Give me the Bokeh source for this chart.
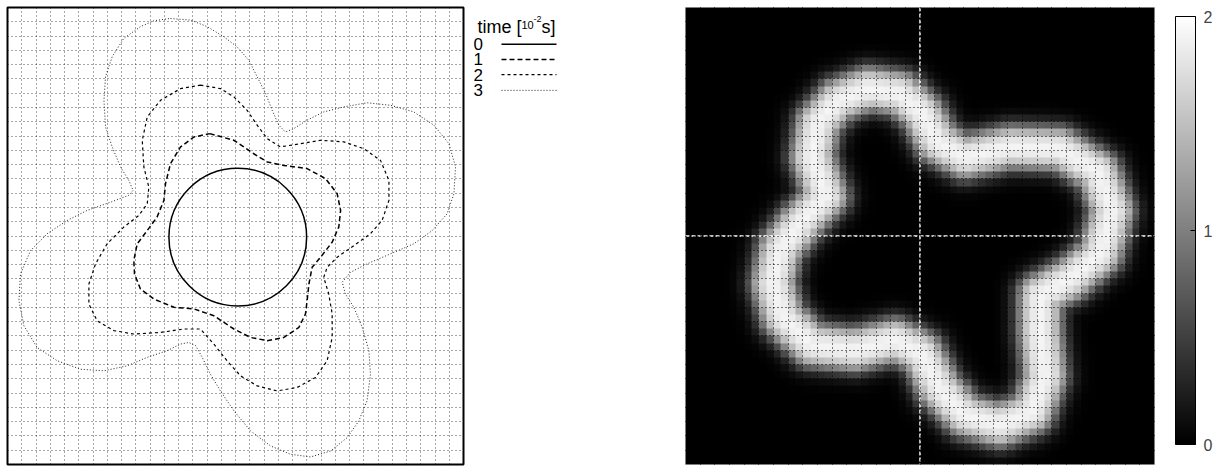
import numpy as np
from bokeh.plotting import figure
from bokeh.models import FixedTicker, LinearColorMapper, ColorBar, Span, Range1d
from bokeh.layouts import row
from bokeh.core.properties import value
from bokeh.embed import file_html
from bokeh.resources import INLINE
from bokeh.palettes import Greys256

# ---------------- data ----------------
legend_labels = ["0", "1", "2", "3"]
legend_title_parts = ["time [", "10", "-2", "s]"]

# t = 0 : circle
circle0_cx = [0.010]
circle0_cy = [-0.005]
circle0_r = [0.302]

# t = 1
curve1_x = [-0.113, -0.007, 0.080, 0.139, 0.212, 0.314, 0.395, 0.446, 0.461, 0.453,
            0.424, 0.373, 0.336, 0.322, 0.314, 0.307, 0.278, 0.212, 0.139, 0.066,
            -0.007, -0.095, -0.183, -0.270, -0.358, -0.417, -0.443, -0.446, -0.431, -0.387,
            -0.344, -0.314, -0.307, -0.285, -0.241, -0.183]
curve1_y = [0.448, 0.419, 0.360, 0.324, 0.309, 0.295, 0.251, 0.185, 0.112, 0.039,
            -0.027, -0.093, -0.137, -0.210, -0.283, -0.341, -0.400, -0.444, -0.458, -0.444,
            -0.407, -0.349, -0.319, -0.312, -0.276, -0.232, -0.166, -0.107, -0.034, 0.024,
            0.083, 0.156, 0.229, 0.317, 0.390, 0.433]

# t = 2
curve2_x = [-0.154, -0.066, -0.007, 0.051, 0.095, 0.139, 0.197, 0.285, 0.373, 0.475,
            0.563, 0.636, 0.673, 0.673, 0.643, 0.592, 0.519, 0.446, 0.402, 0.387,
            0.409, 0.424, 0.424, 0.402, 0.351, 0.270, 0.183, 0.095, 0.022, -0.037,
            -0.095, -0.154, -0.227, -0.329, -0.446, -0.534, -0.607, -0.643, -0.643, -0.614,
            -0.563, -0.490, -0.424, -0.387, -0.380, -0.402, -0.409, -0.387, -0.329, -0.241]
curve2_y = [0.660, 0.645, 0.609, 0.550, 0.485, 0.426, 0.390, 0.404, 0.419, 0.412,
            0.382, 0.331, 0.243, 0.156, 0.068, 0.010, -0.042, -0.093, -0.137, -0.181,
            -0.254, -0.341, -0.444, -0.546, -0.619, -0.663, -0.678, -0.656, -0.612, -0.546,
            -0.473, -0.407, -0.407, -0.422, -0.429, -0.414, -0.371, -0.298, -0.210, -0.122,
            -0.034, 0.039, 0.090, 0.141, 0.214, 0.302, 0.419, 0.521, 0.594, 0.645]

# t = 3
curve3_x = [-0.285, -0.197, -0.124, -0.051, 0.007, 0.058, 0.095, 0.132, 0.161, 0.190,
            0.219, 0.256, 0.314, 0.387, 0.475, 0.577, 0.680, 0.782, 0.870, 0.936,
            0.965, 0.958, 0.928, 0.863, 0.782, 0.680, 0.577, 0.504, 0.468, 0.482,
            0.519, 0.556, 0.585, 0.592, 0.577, 0.541, 0.490, 0.417, 0.329, 0.241,
            0.154, 0.066, -0.007, -0.066, -0.110, -0.146, -0.175, -0.205, -0.241, -0.300,
            -0.387, -0.475, -0.577, -0.680, -0.782, -0.870, -0.928, -0.950, -0.943, -0.899,
            -0.826, -0.738, -0.651, -0.548, -0.468, -0.449, -0.468, -0.504, -0.541, -0.570,
            -0.577, -0.570, -0.541, -0.490, -0.417, -0.358]
curve3_y = [0.952, 0.945, 0.916, 0.872, 0.828, 0.770, 0.697, 0.624, 0.550, 0.485,
            0.455, 0.470, 0.507, 0.543, 0.565, 0.583, 0.572, 0.543, 0.485, 0.404,
            0.302, 0.185, 0.097, 0.024, -0.034, -0.078, -0.122, -0.159, -0.202, -0.254,
            -0.312, -0.400, -0.502, -0.605, -0.721, -0.809, -0.882, -0.941, -0.967, -0.955,
            -0.919, -0.853, -0.765, -0.678, -0.605, -0.531, -0.480, -0.466, -0.473, -0.502,
            -0.531, -0.568, -0.590, -0.583, -0.546, -0.488, -0.393, -0.283, -0.166, -0.064,
            0.010, 0.068, 0.112, 0.148, 0.178, 0.200, 0.243, 0.302, 0.390, 0.477,
            0.594, 0.697, 0.784, 0.865, 0.916, 0.942]

# right panel: centre line of the bright ring and its profile
ring_x = [-0.401, -0.461, -0.435, -0.350, -0.222, -0.085, 0.009, 0.077, 0.192, 0.384,
          0.597, 0.759, 0.819, 0.768, 0.640, 0.512, 0.512, 0.533, 0.478, 0.341,
          0.192, 0.085, 0.009, -0.107, -0.277, -0.461, -0.584, -0.627, -0.597, -0.512]
ring_y = [0.175, 0.345, 0.495, 0.593, 0.644, 0.623, 0.537, 0.409, 0.345, 0.388,
          0.380, 0.281, 0.111, -0.081, -0.188, -0.260, -0.422, -0.614, -0.772, -0.827,
          -0.785, -0.670, -0.516, -0.456, -0.499, -0.478, -0.358, -0.209, -0.060, 0.055]
ring_halfwidth = 0.09
ring_edge = 0.045
ring_peak = 1.95
colorbar_ticks = [0, 1, 2]

# ---------------- helpers ----------------
def closed(a):
    return list(a) + [a[0]]

grid_ticks = list(np.linspace(-1, 1, 33))
FONT = "Liberation Sans"
H = 466

styles = [
    dict(line_color="black", line_width=1.5),
    dict(line_color="black", line_width=1.5, line_dash="5 3"),
    dict(line_color="black", line_width=1.2, line_dash="3 3"),
    dict(line_color="#222222", line_width=1.0, line_dash="1 2"),
]

# ---------------- left panel ----------------
p1 = figure(width=470, height=H, x_range=Range1d(-1, 1), y_range=Range1d(-1, 1),
            x_axis_location=None, y_axis_location=None, toolbar_location=None,
            output_backend="svg", min_border_left=7, min_border_right=7,
            min_border_top=7, min_border_bottom=2)
p1.outline_line_color = "black"
p1.outline_line_width = 2
p1.xgrid.ticker = FixedTicker(ticks=grid_ticks)
p1.ygrid.ticker = FixedTicker(ticks=grid_ticks)
for g in (p1.xgrid, p1.ygrid):
    g.grid_line_color = "#222222"
    g.grid_line_dash = "1 3"
    g.grid_line_width = 1
    g.grid_line_alpha = 0.8

p1.circle(x=circle0_cx, y=circle0_cy, radius=circle0_r, fill_alpha=0, **styles[0])
for xs, ys, st in [(curve1_x, curve1_y, styles[1]),
                   (curve2_x, curve2_y, styles[2]),
                   (curve3_x, curve3_y, styles[3])]:
    p1.line(closed(xs), closed(ys), **st)

# ---------------- legend panel ----------------
LW = 215
p2 = figure(width=LW, height=H, x_range=Range1d(0, LW), y_range=Range1d(H, 0),
            x_axis_location=None, y_axis_location=None, toolbar_location=None,
            output_backend="svg", min_border=0)
p2.outline_line_color = None
p2.grid.visible = False
title_layout = [(7, 20, "18px"), (51, 18, "11px"), (63, 12, "9px"), (71, 20, "18px")]
for txt, (tx, ty, fs) in zip(legend_title_parts, title_layout):
    p2.text(x=[tx], y=[ty], text=[txt], text_font=value(FONT), text_font_size=value(fs),
            text_baseline="alphabetic", text_align="left", text_color="black")
row_y = [37.5, 53, 68.5, 84.5]
for lab, ry, st in zip(legend_labels, row_y, styles):
    p2.text(x=[3], y=[ry], text=[lab], text_font=value(FONT), text_font_size=value("17px"),
            text_baseline="middle", text_align="left", text_color="black")
    p2.line(x=[31, 86], y=[ry, ry], **st)

# ---------------- right panel ----------------
n = 64
c = -1 + (np.arange(n) + 0.5) * 2 / n
GX, GY = np.meshgrid(c, c)
ax = np.array(ring_x); ay = np.array(ring_y)
bx = np.roll(ax, -1); by = np.roll(ay, -1)
dmin = np.full(GX.shape, np.inf)
for i in range(len(ax)):
    vx, vy = bx[i] - ax[i], by[i] - ay[i]
    L2 = vx * vx + vy * vy
    t = np.clip(((GX - ax[i]) * vx + (GY - ay[i]) * vy) / L2, 0, 1)
    dx = GX - (ax[i] + t * vx); dy = GY - (ay[i] + t * vy)
    dmin = np.minimum(dmin, np.sqrt(dx * dx + dy * dy))
field = ring_peak * 0.5 * (1 - np.tanh((dmin - ring_halfwidth) / ring_edge))

mapper = LinearColorMapper(palette=Greys256, low=0, high=2)
p3 = figure(width=544, height=H, x_range=Range1d(-1, 1), y_range=Range1d(-1, 1),
            x_axis_location=None, y_axis_location=None, toolbar_location=None,
            output_backend="svg", min_border_left=0, min_border_right=75,
            min_border_top=0, min_border_bottom=2)
p3.image(image=[field], x=-1, y=-1, dw=2, dh=2, color_mapper=mapper)
p3.outline_line_color = "#aaaaaa"
p3.xgrid.ticker = FixedTicker(ticks=grid_ticks)
p3.ygrid.ticker = FixedTicker(ticks=grid_ticks)
for g in (p3.xgrid, p3.ygrid):
    g.grid_line_color = "black"
    g.grid_line_dash = "1 3"
    g.grid_line_width = 1
    g.level = "overlay"
p3.add_layout(Span(location=0, dimension="width", line_color="white", line_dash="4 2", line_width=1.5))
p3.add_layout(Span(location=0, dimension="height", line_color="white", line_dash="4 2", line_width=1.5))

cb = ColorBar(color_mapper=mapper, ticker=FixedTicker(ticks=colorbar_ticks), width=20, height=428,
              location=(21, 20), padding=0, margin=0, label_standoff=8,
              major_label_text_font=FONT, major_label_text_font_size="16px",
              bar_line_color="black", bar_line_width=1,
              major_tick_line_color="black", major_tick_in=5, major_tick_out=0,
              background_fill_alpha=0, border_line_color=None)
p3.add_layout(cb, "right")

layout = row(p1, p2, p3, spacing=0)
open("out.html", "w").write(file_html(layout, INLINE))
